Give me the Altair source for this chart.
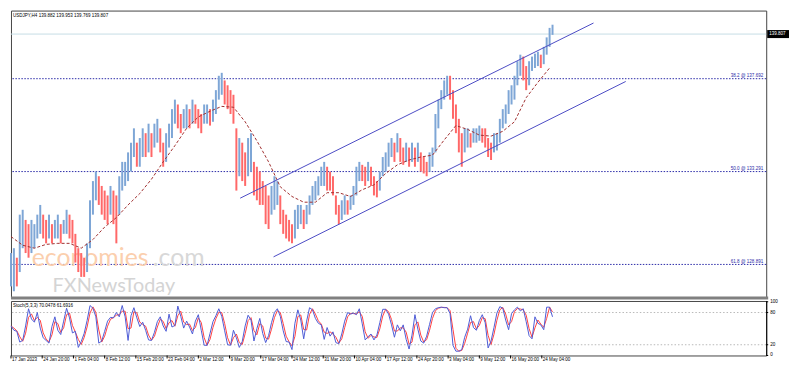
import altair as alt
import pandas as pd

# ---------------- data ----------------
# one index step = about 4 H4 candles; values are the high / low of each group
hi = [129.43, 129.66, 129.21, 131.25, 131.48, 131.00, 130.80, 131.00, 130.80, 131.25,
      131.71, 131.25, 131.00, 131.25, 130.80, 131.00, 131.25, 130.80, 131.00, 131.48,
      131.25, 131.00, 130.34, 129.66, 129.43, 129.21, 129.89, 131.93, 132.84, 133.29,
      133.07, 132.61, 132.39, 132.16, 132.61, 132.39, 132.16, 133.07, 133.75, 133.75,
      134.20, 134.66, 135.34, 134.66, 134.88, 135.34, 135.11, 135.56, 135.11, 135.56,
      135.79, 135.34, 134.66, 135.11, 135.56, 136.25, 136.70, 136.47, 136.02, 136.25,
      136.47, 136.25, 136.70, 136.47, 136.25, 136.02, 136.47, 136.47, 136.25, 136.70,
      137.15, 137.83, 137.97, 137.61, 137.38, 137.15, 136.93, 135.34, 134.88, 134.66,
      134.20, 134.88, 135.11, 133.75, 133.52, 133.29, 132.84, 132.61, 132.16, 132.61,
      133.07, 132.84, 132.16, 131.48, 131.25, 131.00, 130.80, 131.48, 131.71, 131.71,
      131.48, 131.71, 132.16, 132.61, 132.84, 133.07, 133.52, 133.75, 133.52, 133.29,
      133.07, 132.16, 131.71, 131.93, 132.16, 131.93, 132.16, 132.61, 133.52, 133.75,
      133.61, 133.52, 133.75, 133.52, 133.07, 132.84, 133.29, 133.98, 134.20, 134.66,
      134.88, 134.66, 135.11, 134.88, 134.43, 134.66, 134.43, 134.66, 134.43, 134.66,
      134.20, 133.98, 133.75, 134.20, 134.43, 136.02, 136.70, 137.15, 137.61, 137.83,
      137.83, 137.15, 136.47, 135.79, 135.11, 135.34, 135.34, 135.11, 135.34, 135.34,
      135.47, 135.34, 135.34, 134.88, 134.66, 135.11, 135.11, 135.79, 136.25, 136.47,
      137.15, 137.38, 137.83, 138.52, 138.83, 138.74, 138.29, 138.52, 138.74, 138.88,
      138.97, 138.83, 139.20, 139.65, 140.10, 140.25]
lo = [127.85, 127.62, 127.85, 128.53, 129.66, 129.43, 129.21, 129.43, 129.66, 130.12,
      130.34, 130.12, 129.89, 130.12, 129.89, 130.12, 130.12, 129.89, 130.34, 130.34,
      130.12, 129.89, 128.98, 128.53, 128.30, 128.30, 128.53, 129.66, 131.25, 131.93,
      131.71, 131.25, 131.00, 130.80, 131.25, 130.80, 129.89, 131.25, 132.39, 132.61,
      132.84, 133.29, 133.98, 133.52, 133.52, 133.98, 133.98, 134.20, 133.98, 134.43,
      134.66, 134.20, 133.52, 133.75, 134.43, 134.88, 135.56, 135.34, 135.11, 135.34,
      135.34, 135.34, 135.56, 135.56, 135.34, 135.11, 135.56, 135.56, 135.47, 135.65,
      136.02, 136.70, 136.93, 136.47, 136.25, 136.02, 135.56, 132.39, 133.07, 132.84,
      132.61, 133.07, 133.29, 132.16, 131.93, 131.71, 131.71, 130.80, 130.57, 131.25,
      131.48, 131.71, 130.80, 130.34, 130.12, 129.98, 129.89, 130.12, 130.57, 130.80,
      130.57, 130.80, 131.25, 131.71, 131.93, 132.16, 132.61, 132.61, 132.39, 132.39,
      132.16, 131.25, 130.80, 131.00, 131.25, 131.25, 131.48, 131.71, 132.16, 132.84,
      132.84, 132.61, 132.84, 132.61, 132.16, 132.07, 132.39, 133.07, 133.29, 133.52,
      133.98, 133.75, 134.20, 133.75, 133.61, 133.75, 133.52, 133.75, 133.52, 133.75,
      133.29, 133.20, 133.07, 133.29, 133.52, 134.20, 135.34, 136.25, 136.70, 136.93,
      136.70, 135.79, 135.11, 134.20, 133.52, 134.20, 134.43, 134.43, 134.66, 134.66,
      134.75, 134.66, 134.43, 133.98, 133.84, 134.20, 134.29, 134.66, 135.34, 135.56,
      136.02, 136.47, 136.70, 137.38, 137.83, 137.61, 137.15, 137.38, 138.06, 138.20,
      138.29, 138.20, 138.38, 138.83, 139.20, 139.77]
stoch_k = [55, 47, 45, 25, 28, 55, 87, 68, 62, 80,
           51, 33, 28, 23, 54, 72, 47, 39, 64, 88,
           70, 42, 45, 15, 26, 41, 65, 93, 88, 72,
           23, 27, 45, 64, 71, 70, 80, 72, 93, 72,
           28, 74, 89, 70, 54, 62, 47, 29, 28, 43,
           63, 72, 55, 45, 77, 53, 56, 92, 73, 51,
           64, 53, 40, 64, 76, 47, 19, 19, 41, 63,
           74, 87, 73, 46, 20, 19, 47, 33, 15, 26,
           55, 75, 66, 27, 50, 69, 41, 24, 37, 61,
           80, 87, 73, 46, 26, 25, 11, 60, 85, 66,
           31, 64, 89, 85, 69, 60, 57, 30, 52, 36,
           44, 24, 22, 40, 64, 80, 77, 79, 76, 87,
           59, 29, 35, 40, 29, 38, 61, 86, 86, 77,
           57, 34, 57, 46, 57, 30, 12, 38, 76, 49,
           27, 23, 36, 58, 80, 87, 89, 90, 89, 89,
           78, 19, 8, 8, 11, 34, 49, 74, 52, 47,
           65, 76, 61, 14, 27, 52, 79, 91, 88, 66,
           48, 78, 85, 90, 83, 87, 63, 37, 31, 72,
           60, 57, 48, 90, 90, 72]
ma_step = 4
ma_vals = [130.21, 129.80, 129.66, 129.84, 129.89, 129.89, 129.66, 130.07, 130.66, 131.11,
           131.71, 132.25, 132.93, 133.75, 134.52, 135.34, 135.88, 136.15, 136.38, 136.34,
           135.65, 134.75, 133.75, 132.57, 132.11, 131.84, 131.84, 132.29, 132.29, 132.11,
           132.43, 132.66, 133.20, 133.61, 133.84, 133.98, 134.07, 134.79, 135.47, 135.29,
           135.02, 134.97, 135.20, 135.65, 136.79, 137.52, 138.20]
date_labels = ["17 Jan 2023", "24 Jan 20:00", "1 Feb 04:00", "8 Feb 12:00", "15 Feb 20:00",
               "23 Feb 04:00", "2 Mar 12:00", "9 Mar 20:00", "17 Mar 04:00", "24 Mar 12:00",
               "31 Mar 20:00", "10 Apr 04:00", "17 Apr 12:00", "24 Apr 20:00", "3 May 04:00",
               "9 May 12:00", "16 May 20:00", "24 May 04:00"]
label_period = 32 / 3
price_ticks = [127.30, 128.04, 128.78, 129.54, 130.28, 131.02, 131.78, 132.52, 133.28, 134.02,
               134.76, 135.50, 136.26, 137.00, 137.74, 138.50, 139.24, 139.98, 140.74]
fib_levels = [137.692, 133.291, 128.891]
fib_texts = ["38.2 @ 137.692", "50.0 @ 133.291", "61.8 @ 128.891"]
channel_name = ["upper", "upper", "lower", "lower"]
channel_i = [78.3, 199.0, 89.7, 210.0]
channel_p = [132.03, 140.33, 129.25, 137.56]
last_price = 139.807
header = "USDJPY,H4  139.882 139.953 139.769 139.807"
stoch_title = "Stoch(5,3,3) 70.0478 61.6916"
stoch_levels = [20, 80]
stoch_ticks = [0, 20, 80, 100]

# ---------------- layout ----------------
W, H, HS = 762, 290, 55
X_MAX = 258
P_MIN, P_MAX = 127.30, 140.92
S_MAX = 101.5
FONT = "Liberation Sans"
FS = 4.6

bars_df = pd.DataFrame({"i": range(len(hi)), "hi": hi, "lo": lo})
mid = [(a + b) / 2 for a, b in zip(hi, lo)]
bars_df["dir"] = ["up" if k == 0 or mid[k] >= mid[k - 1] else "down" for k in range(len(mid))]
ma_df = pd.DataFrame({"i": [k * ma_step for k in range(len(ma_vals))], "p": ma_vals})
fib_df = pd.DataFrame({"p": fib_levels, "t": fib_texts, "xm": [X_MAX] * 3})
ch_df = pd.DataFrame({"name": channel_name, "i": channel_i, "p": channel_p})
last_df = pd.DataFrame({"p": [last_price], "t": [f"{last_price:.3f}"],
                        "top": [last_price + 0.19], "bot": [last_price - 0.19]})
head_df = pd.DataFrame({"t": [header]})
st_df = pd.DataFrame({"i": range(len(stoch_k)), "k": stoch_k})
lv_df = pd.DataFrame({"lv": stoch_levels})
stt_df = pd.DataFrame({"t": [stoch_title]})
wm_df = pd.DataFrame({"a": ["economies"], "b": [".com"], "c": ["FXNewsToday"]})
dl_df = pd.DataFrame({"i": [k * label_period for k in range(len(date_labels))], "t": date_labels})
sl_df = pd.DataFrame({"v": stoch_ticks, "t": [str(v) for v in stoch_ticks], "xm": [X_MAX] * 4})

xs = alt.Scale(domain=[0, X_MAX], nice=False, zero=False)
ys = alt.Scale(domain=[P_MIN, P_MAX], nice=False, zero=False)

price_axis = alt.Axis(orient="right", values=price_ticks, format=".3f", title=None,
                      labelFontSize=FS, tickSize=2, labelPadding=1, grid=False,
                      domainColor="#000", tickColor="#000", labelColor="#000")

fib = alt.Chart(fib_df).mark_rule(strokeDash=[1.5, 1.5], color="#2b2ba8", strokeWidth=1).encode(
    y=alt.Y("p:Q", scale=ys, axis=None))
cur = alt.Chart(last_df).mark_rule(color="#c5dde5", strokeWidth=1).encode(
    y=alt.Y("p:Q", scale=ys, axis=None))
wm1 = alt.Chart(wm_df).mark_text(align="left", baseline="alphabetic", fontSize=25, font="Lato",
                                 color="#fbcfae").encode(x=alt.value(21), y=alt.value(258), text="a:N")
wm2 = alt.Chart(wm_df).mark_text(align="left", baseline="alphabetic", fontSize=25, font="Lato",
                                 color="#d8d8d8").encode(x=alt.value(143), y=alt.value(258), text="b:N")
wm3 = alt.Chart(wm_df).mark_text(align="left", baseline="alphabetic", fontSize=20, font="Lato",
                                 color="#d4d4d4").encode(x=alt.value(42), y=alt.value(284), text="c:N")
bars = alt.Chart(bars_df).mark_rule(strokeWidth=2).encode(
    x=alt.X("i:Q", scale=xs, axis=None),
    y=alt.Y("lo:Q", scale=ys, axis=price_axis),
    y2="hi:Q",
    color=alt.Color("dir:N", scale=alt.Scale(domain=["up", "down"], range=["#7ea6d6", "#ff6868"]),
                    legend=None))
ma = alt.Chart(ma_df).mark_line(strokeDash=[3, 2], color="#a03030", strokeWidth=1).encode(
    x=alt.X("i:Q", scale=xs, axis=None), y=alt.Y("p:Q", scale=ys, axis=None))
ch = alt.Chart(ch_df).mark_line(color="#4b4bc4", strokeWidth=1).encode(
    x=alt.X("i:Q", scale=xs, axis=None), y=alt.Y("p:Q", scale=ys, axis=None), detail="name:N")
fibt = alt.Chart(fib_df).mark_text(align="right", baseline="bottom", dx=-3, dy=-0.5,
                                   fontSize=FS, color="#2b2ba8").encode(
    x=alt.X("xm:Q", scale=xs, axis=None), y=alt.Y("p:Q", scale=ys, axis=None), text="t:N")
head = alt.Chart(head_df).mark_text(align="left", baseline="middle", fontSize=FS, color="#000").encode(
    x=alt.value(2), y=alt.value(5), text="t:N")
sep = alt.Chart(head_df).mark_rule(strokeWidth=3, color="#808080").encode(
    x=alt.value(0), x2=alt.value(W + 2), y=alt.value(H))
box = alt.Chart(last_df).mark_rect(color="#000").encode(
    x=alt.value(W + 1), x2=alt.value(W + 23), y=alt.Y("top:Q", scale=ys, axis=None), y2="bot:Q")
boxt = alt.Chart(last_df).mark_text(align="left", baseline="middle", fontSize=FS, color="#fff").encode(
    x=alt.value(W + 3), y=alt.Y("p:Q", scale=ys, axis=None), text="t:N")

main = alt.layer(fib, cur, wm1, wm2, wm3, bars, ma, ch, fibt, head, sep, box, boxt).properties(
    width=W, height=H)

# ---------------- stochastic panel ----------------
xs2 = alt.Scale(domain=[0, X_MAX], nice=False, zero=False)
ys2 = alt.Scale(domain=[0, S_MAX], nice=False, zero=False)

lv = alt.Chart(lv_df).mark_rule(strokeDash=[1.5, 2], color="#b8b8b8").encode(
    y=alt.Y("lv:Q", scale=ys2, axis=None))
sig = alt.Chart(st_df).transform_window(
    sig="mean(k)", frame=[-1, 0], sort=[alt.SortField("i")]
).mark_line(color="#ff4040", strokeWidth=1).encode(
    x=alt.X("i:Q", scale=xs2, axis=None), y=alt.Y("sig:Q", scale=ys2, axis=None))
kline = alt.Chart(st_df).mark_line(color="#4d5bd6", strokeWidth=1).encode(
    x=alt.X("i:Q", scale=xs2, axis=None), y=alt.Y("k:Q", scale=ys2, axis=None))
stt = alt.Chart(stt_df).mark_text(align="left", baseline="middle", fontSize=FS, color="#000").encode(
    x=alt.value(2), y=alt.value(5), text="t:N")
# date axis: tick marks and left-aligned labels below the panel
dticks = alt.Chart(dl_df).mark_rule(color="#000", strokeWidth=1).encode(
    x=alt.X("i:Q", scale=xs2, axis=None), y=alt.value(HS), y2=alt.value(HS + 3))
dlabels = alt.Chart(dl_df).mark_text(align="left", baseline="top", dx=1, fontSize=FS,
                                     color="#000").encode(
    x=alt.X("i:Q", scale=xs2, axis=None), y=alt.value(HS + 2), text="t:N")
# right-hand value axis of the oscillator
sdom = alt.Chart(head_df).mark_rule(color="#000", strokeWidth=1).encode(
    x=alt.value(W + 0.5), y=alt.value(0), y2=alt.value(HS))
sticks = alt.Chart(sl_df).mark_rule(color="#000", strokeWidth=1).encode(
    x=alt.value(W), x2=alt.value(W + 2), y=alt.Y("v:Q", scale=ys2, axis=None))
slabels = alt.Chart(sl_df).mark_text(align="left", baseline="middle", dx=4, fontSize=FS,
                                     color="#000").encode(
    x=alt.X("xm:Q", scale=xs2, axis=None), y=alt.Y("v:Q", scale=ys2, axis=None), text="t:N")

stoch = alt.layer(lv, sig, kline, stt, dticks, dlabels, sdom, sticks, slabels).properties(
    width=W, height=HS)

chart = alt.vconcat(main, stoch, spacing=3, padding=0, bounds="flush").configure_view(
    stroke="#444", strokeWidth=1
).configure_axis(labelFont=FONT).configure_text(font=FONT).properties(background="#ffffff")

chart.save("out.html", embed_options={"renderer": "svg", "actions": False})
